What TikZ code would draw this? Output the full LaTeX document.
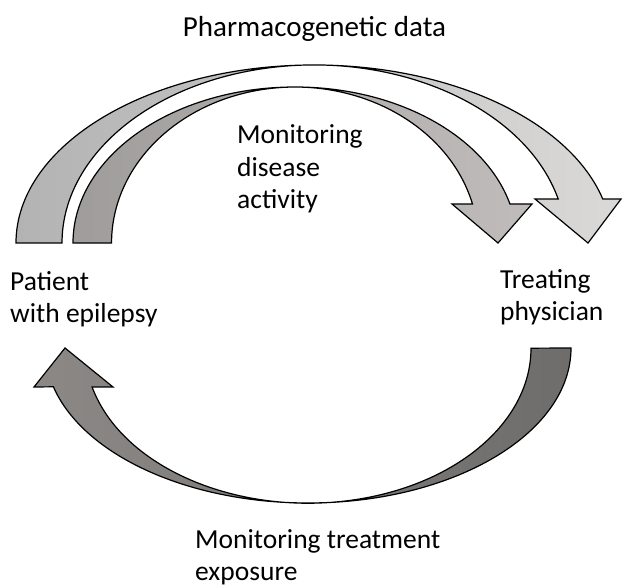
\documentclass[tikz,border=0pt]{standalone}
\usepackage{fontspec}
\setmainfont{Carlito}
\usetikzlibrary{positioning}

\definecolor{pgtail}{HTML}{B3B3B3}
\definecolor{pghead}{HTML}{DAD9D8}
\definecolor{mdtail}{HTML}{9F9D9B}
\definecolor{mdhead}{HTML}{C0BCBB}
\definecolor{mttail}{HTML}{6E6D6B}
\definecolor{mthead}{HTML}{8C8886}

\begin{document}
\begin{tikzpicture}[
  x=1pt, y=1pt,
  lbl/.style={font=\fontsize{27.5}{32.5}\selectfont, align=left,
              inner sep=0pt, anchor=base west},
  band/.style={draw=black, line width=1.2pt, line join=miter},
]
\useasboundingbox (0,0) rectangle (623,588);

% labels (base = last line)
\node[lbl, anchor=base, font=\fontsize{29}{34}\selectfont]
  (pharma) at (314.5,551) {Pharmacogenetic data};
\node[lbl] (disease)  at (237,379) {Monitoring\\disease\\activity};
\node[lbl] (patient)  at (10,265)  {Patient\\with epilepsy};
\node[lbl] (doctor)   at (500,267) {Treating\\physician};
\node[lbl] (exposure) at (195,7)   {Monitoring treatment\\exposure};

% tails of the three block arrows
\coordinate (pg tail) at (16,345);
\coordinate (md tail) at (73,345);
\coordinate (mt tail) at (571,240);

% pharmacogenetic data: outer arch, patient -> physician
\path[band, left color=pgtail, right color=pghead]
  (pg tail) arc[start angle=180, end angle=14.3, x radius=298, y radius=178]
  -- (621,389) -- (588,345) -- (535,389) -- (558.2,389)
  arc[start angle=14.3, end angle=180, x radius=252, y radius=178] -- cycle;

% disease activity: inner arch, patient -> physician
\path[band, left color=mdtail, right color=mdhead]
  (md tail) arc[start angle=180, end angle=14.5, x radius=222, y radius=156]
  -- (532,384) -- (498,345) -- (452,384) -- (472.5,384)
  arc[start angle=14.5, end angle=180, x radius=183.4, y radius=156] -- cycle;

% treatment exposure: lower arch, physician -> patient
\path[band, left color=mthead, right color=mttail]
  (mt tail) arc[start angle=0, end angle=-165.5, x radius=263, y radius=155]
  -- (34,201) -- (65,240) -- (113,201) -- (92.1,201)
  arc[start angle=-165.5, end angle=0, x radius=223, y radius=155] -- cycle;

\end{tikzpicture}
\end{document}
